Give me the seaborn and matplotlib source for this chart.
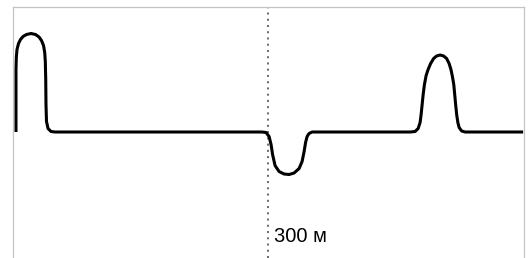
import numpy as np
import pandas as pd
import matplotlib
matplotlib.use("Agg")
import matplotlib.pyplot as plt
import seaborn as sns

# trace: distance (m) vs. amplitude (baseline = 0)
pulse_left_m = [3.5, 3.5, 3.5, 3.9, 4.7, 6.5, 8.8, 11.8, 15.9, 21.2, 26.5, 30.6, 33.5,
                35.9, 37.3, 38.0, 38.5, 38.8, 39.4, 41.2, 44.7, 49.4]
pulse_left_amp = [0.0, 0.325, 0.625, 0.745, 0.825, 0.885, 0.925, 0.955, 0.975, 0.985,
                  0.975, 0.95, 0.915, 0.865, 0.795, 0.705, 0.525, 0.275, 0.105, 0.035,
                  0.005, 0.0]

dip_m = [292.9, 297.6, 301.2, 303.5, 305.3, 308.2, 312.9, 318.8, 324.7, 330.6, 336.5,
         340.0, 342.4, 344.1, 345.9, 348.2, 351.8]
dip_amp = [0.0, -0.005, -0.045, -0.125, -0.225, -0.335, -0.395, -0.42, -0.425, -0.41,
           -0.365, -0.295, -0.195, -0.105, -0.045, -0.015, 0.0]

pulse_right_m = [467.1, 472.9, 476.5, 478.8, 480.0, 481.2, 482.4, 483.9, 485.9, 488.2,
                 491.2, 494.7, 498.2, 502.4, 506.5, 510.0, 512.9, 515.1, 516.8, 518.4,
                 519.5, 520.6, 521.8, 523.2, 524.7, 527.7, 531.8]
pulse_right_amp = [0.0, 0.005, 0.035, 0.095, 0.175, 0.275, 0.375, 0.475, 0.565, 0.625,
                   0.685, 0.735, 0.76, 0.77, 0.76, 0.735, 0.685, 0.625, 0.555, 0.475,
                   0.375, 0.275, 0.175, 0.095, 0.045, 0.01, 0.0]

end_m = [600.0]
end_amp = [0.0]

marker_m = 300
marker_label = "300 м"

trace = pd.DataFrame({
    "distance": pulse_left_m + dip_m + pulse_right_m + end_m,
    "amplitude": pulse_left_amp + dip_amp + pulse_right_amp + end_amp,
})

sns.set_style("white")
plt.rcParams["font.family"] = ["Liberation Sans", "DejaVu Sans"]

fig = plt.figure(figsize=(5.32, 2.58), dpi=100)
ax = fig.add_axes([13 / 532, 0, 511 / 532, 251 / 258])

sns.lineplot(data=trace, x="distance", y="amplitude", sort=False, estimator=None,
             color="black", linewidth=2.2, ax=ax)
for line in ax.get_lines():
    line.set_solid_joinstyle("round")
    line.set_solid_capstyle("butt")

ax.axvline(marker_m, color="#6e6e6e", linewidth=1.45, linestyle=(0, (1, 2.1)), zorder=1)
ax.text(marker_m + 7, -1.045, marker_label, fontsize=14.5, color="black",
        ha="left", va="center")

ax.set_xlim(0, 601)
ax.set_ylim(-1.26, 1.25)
ax.set_xticks([])
ax.set_yticks([])
ax.set_xlabel("")
ax.set_ylabel("")
for side in ["left", "right", "top"]:
    ax.spines[side].set_color("#c4c4c4")
    ax.spines[side].set_linewidth(0.9)
ax.spines["bottom"].set_visible(False)

fig.savefig("out.png", dpi=100)
plt.close(fig)
